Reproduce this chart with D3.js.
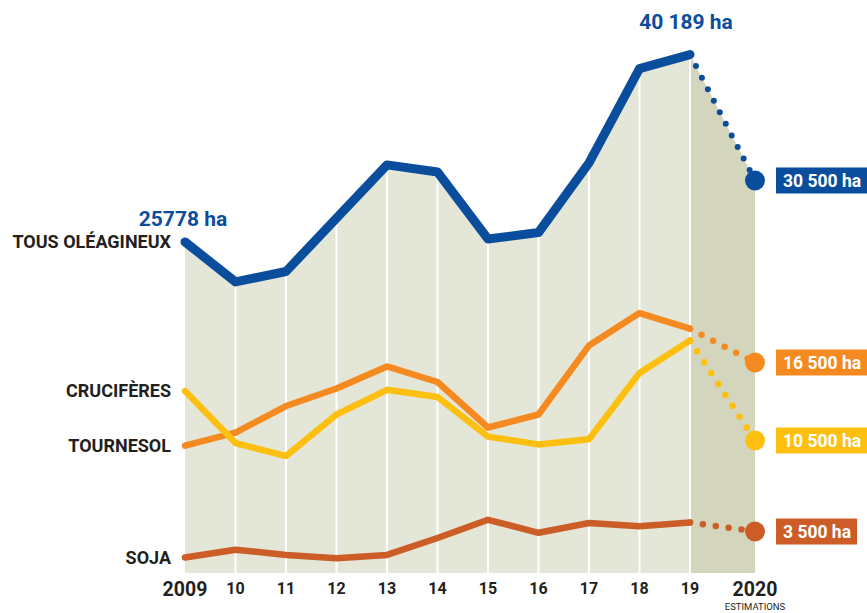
<!DOCTYPE html>
<html>
<head>
<meta charset="utf-8">
<script src="https://cdn.jsdelivr.net/npm/d3@7"></script>
<style>
  body { margin: 0; background: #fff; }
  svg text { font-family: "Roboto", "Liberation Sans", sans-serif; }
</style>
</head>
<body>
<div id="chart"></div>
<script>
// surfaces (ha) - 2009..2019 observed, 2020 estimate
var years = [2009, 2010, 2011, 2012, 2013, 2014, 2015, 2016, 2017, 2018, 2019, 2020];
var yearLabels = ["2009", "10", "11", "12", "13", "14", "15", "16", "17", "18", "19", "2020"];
var tous = [25778, 22700, 23500, 27600, 31700, 31150, 26000, 26500, 31850, 39100, 40189, 30500];
var tournesol = [10100, 11100, 13150, 14500, 16200, 15000, 11500, 12500, 17800, 20300, 19100, 16500];
var cruciferes = [14300, 10300, 9300, 12500, 14400, 13850, 10800, 10200, 10600, 15700, 18200, 10500];
var soja = [1500, 2100, 1700, 1450, 1700, 3000, 4400, 3400, 4150, 3900, 4200, 3500];
var seriesNames = ["TOUS OLÉAGINEUX", "TOURNESOL", "CRUCIFÈRES", "SOJA"];
var endLabels = ["30 500 ha", "16 500 ha", "10 500 ha", "3 500 ha"];
var firstLabel = "25778 ha";
var peakLabel = "40 189 ha";

var W = 867, H = 613;
var bottom = 573;
var svg = d3.select("#chart").append("svg").attr("width", W).attr("height", H);

var x = d3.scaleLinear().domain([2009, 2019, 2020]).range([185, 690, 755]);
var y = d3.scaleLinear().domain([0, 44000]).range([577, 5]);

var BLUE = "#0b4d9d", ORANGE = "#f58b20", YELLOW = "#fdc010", RUST = "#cc5d26", INK = "#231f20";

var series = [
  {name: seriesNames[0], values: tous, color: BLUE, w: 9},
  {name: seriesNames[1], values: tournesol, color: ORANGE, w: 6.5},
  {name: seriesNames[2], values: cruciferes, color: YELLOW, w: 6.5},
  {name: seriesNames[3], values: soja, color: RUST, w: 6.5}
];

var pts = function(vals){ return years.map(function(yr, i){ return [yr, vals[i]]; }); };

// background areas under the total line
var area = d3.area().x(function(d){ return x(d[0]); }).y0(bottom).y1(function(d){ return y(d[1]); });
var allPts = pts(tous);
svg.append("path").attr("d", area(allPts.slice(0, 11))).attr("fill", "#e4e6d8");
svg.append("path").attr("d", area(allPts.slice(10))).attr("fill", "#d3d5bd");

// white verticals
svg.selectAll(".grid").data(years.slice(1, 11)).enter().append("line")
  .attr("x1", function(d){ return x(d); }).attr("x2", function(d){ return x(d); })
  .attr("y1", bottom).attr("y2", function(d, i){ return y(tous[i + 1]); })
  .attr("stroke", "#fff").attr("stroke-width", 2);

var line = d3.line().x(function(d){ return x(d[0]); }).y(function(d){ return y(d[1]); });

// draw order: soja, tournesol, crucifères, total
[3, 1, 2, 0].forEach(function(k){
  var s = series[k];
  var p = pts(s.values);
  svg.append("path").attr("d", line(p.slice(0, 11)))
    .attr("fill", "none").attr("stroke", s.color).attr("stroke-width", s.w)
    .attr("stroke-linecap", "round").attr("stroke-linejoin", "round");
  // estimation : dotted
  svg.append("path").attr("d", line(p.slice(10)))
    .attr("fill", "none").attr("stroke", s.color).attr("stroke-width", k == 0 ? 6 : 6.5)
    .attr("stroke-linecap", "round").attr("stroke-dasharray", "0,13");
  svg.append("circle").attr("cx", x(2020)).attr("cy", y(s.values[11])).attr("r", 10).attr("fill", s.color);

  // left name
  svg.append("text").attr("x", 171).attr("y", y(s.values[0]) + 6)
    .attr("text-anchor", "end").attr("font-size", 18).attr("font-weight", "bold")
    .attr("fill", INK).text(s.name);

  // right value box
  var g = svg.append("g");
  var t = g.append("text").attr("x", 783).attr("y", y(s.values[11]) + 6)
    .attr("font-size", 17.5).attr("font-weight", "bold").attr("fill", "#fff").text(endLabels[k]);
  var bb = t.node().getBBox();
  g.insert("rect", "text").attr("x", 776).attr("y", y(s.values[11]) - 13)
    .attr("width", bb.width + 13).attr("height", 26).attr("fill", s.color);
});

// value call-outs on total line
svg.append("text").attr("x", x(2009) - 2).attr("y", 226).attr("text-anchor", "middle")
  .attr("font-size", 21).attr("font-weight", "bold").attr("fill", BLUE).text(firstLabel);
svg.append("text").attr("x", x(2019) - 4).attr("y", 29).attr("text-anchor", "middle")
  .attr("font-size", 21).attr("font-weight", "bold").attr("fill", BLUE).text(peakLabel);

// year axis
svg.selectAll(".yr").data(years).enter().append("text")
  .attr("x", function(d){ return x(d); })
  .attr("y", function(d, i){ return (i == 0 || i == 11) ? 596 : 594; })
  .attr("text-anchor", "middle").attr("font-weight", "bold")
  .attr("font-size", function(d, i){ return (i == 0 || i == 11) ? 19.5 : 16; })
  .attr("fill", INK).text(function(d, i){ return yearLabels[i]; });
svg.append("text").attr("x", x(2020)).attr("y", 610).attr("text-anchor", "middle")
  .attr("font-size", 9.5).attr("fill", INK).text("ESTIMATIONS");
</script>
</body>
</html>
